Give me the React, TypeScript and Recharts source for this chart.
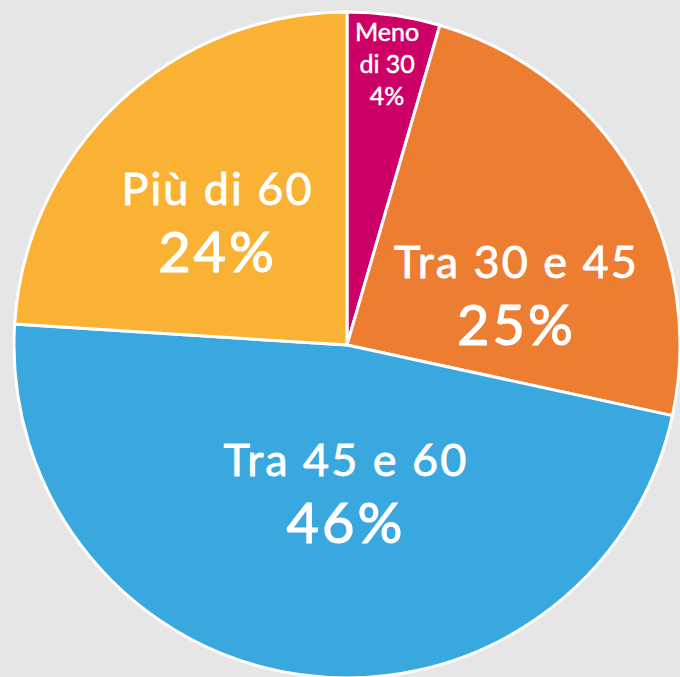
import { PieChart, Pie, Cell } from 'recharts';

const CATEGORIES = ['Meno di 30', 'Tra 30 e 45', 'Tra 45 e 60', 'Più di 60'];
// slice sizes
const SHARES = [4.5, 23.9, 47.6, 24.0];
// percentages as printed on the slices
const PCT_LABELS = ['4%', '25%', '46%', '24%'];

const COLORS = ['#cc0066', '#ed7d31', '#39a8df', '#f9b233'];
// where each label sits: fraction of the radius, clockwise shift from the mid angle (deg)
const LABEL_POS = [
  { r: 0.855, shift: 0 },
  { r: 0.53, shift: 14.5 },
  { r: 0.445, shift: -7.5 },
  { r: 0.535, shift: -3.4 },
];

const FONT = 'Lato, "Open Sans", sans-serif';
const RAD = Math.PI / 180;

const data = CATEGORIES.map((name, i) => ({ name, value: SHARES[i], pct: PCT_LABELS[i] }));

function renderLabel(props: any) {
  const { cx, cy, midAngle, outerRadius, index } = props;
  const pos = LABEL_POS[index];
  const a = (midAngle - pos.shift) * RAD;
  const x = cx + outerRadius * pos.r * Math.cos(a);
  const y = cy - outerRadius * pos.r * Math.sin(a);
  const name = CATEGORIES[index];
  const pct = PCT_LABELS[index];

  if (SHARES[index] < 10) {
    // narrow slice: wrap the name and keep everything small
    const sp = name.indexOf(' ');
    const lines = [name.slice(0, sp), name.slice(sp + 1), pct];
    return (
      <text
        x={x}
        y={y}
        fill="#fff"
        stroke="#fff"
        strokeWidth={0.5}
        textAnchor="middle"
        fontFamily={FONT}
        fontSize={25}
      >
        {lines.map((l, k) => (
          <tspan key={k} x={x} y={y - 22 + k * 32}>
            {l}
          </tspan>
        ))}
      </text>
    );
  }

  return (
    <g>
      <text
        x={x}
        y={y - 17.5}
        fill="#fff"
        stroke="#fff"
        strokeWidth={0.8}
        textAnchor="middle"
        fontFamily={FONT}
        fontSize={45}
        letterSpacing={2}
      >
        {name}
      </text>
      <text
        x={x}
        y={y + 49.5}
        fill="#fff"
        stroke="#fff"
        strokeWidth={1.2}
        textAnchor="middle"
        fontFamily={FONT}
        fontSize={56}
        letterSpacing={3}
      >
        {pct}
      </text>
    </g>
  );
}

export default function App() {
  return (
    <div
      style={{
        position: 'absolute',
        left: 0,
        top: 0,
        width: 680,
        height: 677,
        background: '#e6e6e6',
        overflow: 'hidden',
      }}
    >
      <PieChart width={680} height={677} margin={{ top: 0, right: 0, bottom: 0, left: 0 }}>
        <Pie
          data={data}
          dataKey="value"
          nameKey="name"
          cx={347}
          cy={345}
          outerRadius={333}
          startAngle={90}
          endAngle={-270}
          stroke="#ffffff"
          strokeWidth={3}
          label={renderLabel}
          labelLine={false}
          isAnimationActive={false}
        >
          {data.map((d, i) => (
            <Cell key={d.name} fill={COLORS[i]} />
          ))}
        </Pie>
      </PieChart>
    </div>
  );
}
